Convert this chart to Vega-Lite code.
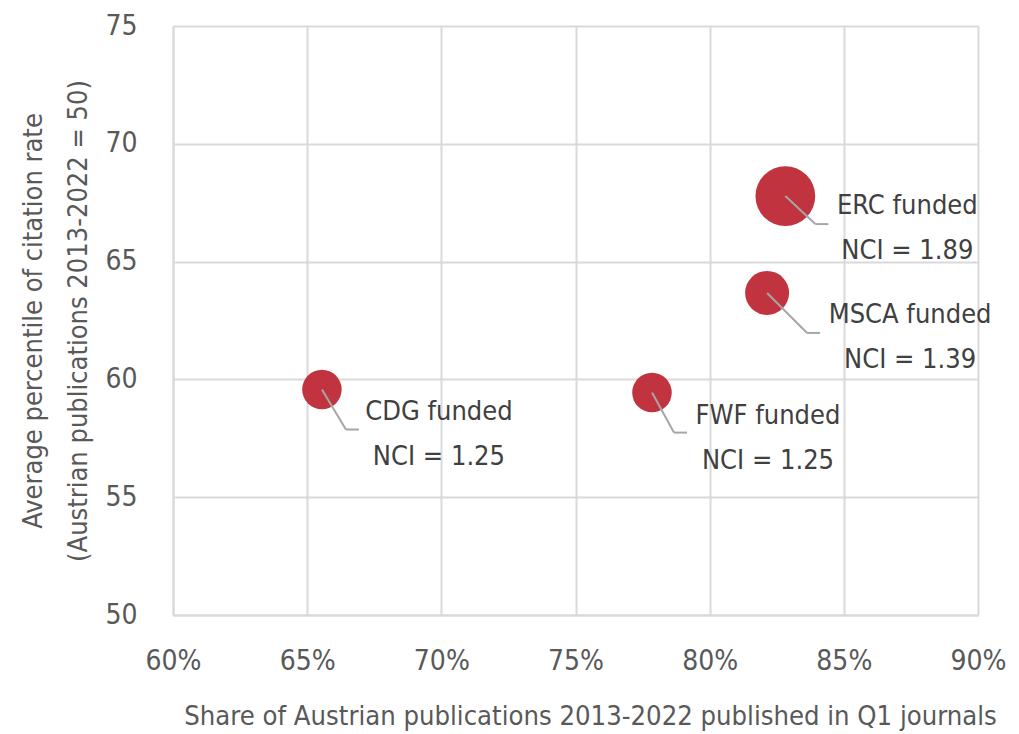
{
  "$schema": "https://vega.github.io/schema/vega-lite/v6.json",
  "width": 805,
  "height": 589,
  "autosize": {"type": "none"},
  "padding": {"left": 173, "top": 26, "right": 41, "bottom": 119},
  "background": "white",
  "config": {
    "view": {"stroke": null},
    "font": "DejaVu Sans Condensed",
    "axis": {
      "labelFont": "DejaVu Sans Condensed",
      "titleFont": "DejaVu Sans Condensed",
      "labelFontSize": 28,
      "titleFontSize": 27,
      "labelColor": "#595959",
      "titleColor": "#595959",
      "titleFontWeight": "normal",
      "gridColor": "#D9D9D9",
      "gridWidth": 2,
      "domainColor": "#D9D9D9",
      "domainWidth": 2,
      "ticks": false,
      "tickSize": 0,
      "labelFlush": false
    }
  },
  "data": {
    "values": [
      {"group": "ERC", "label": "ERC funded\nNCI = 1.89", "share": 0.8282, "pct": 67.78, "nci": 1.89},
      {"group": "MSCA", "label": "MSCA funded\nNCI = 1.39", "share": 0.8214, "pct": 63.67, "nci": 1.39},
      {"group": "CDG", "label": "CDG funded\nNCI = 1.25", "share": 0.6555, "pct": 59.57, "nci": 1.25},
      {"group": "FWF", "label": "FWF funded\nNCI = 1.25", "share": 0.7785, "pct": 59.44, "nci": 1.25}
    ]
  },
  "encoding": {
    "x": {
      "field": "share",
      "type": "quantitative",
      "scale": {"domain": [0.6, 0.9], "nice": false, "zero": false},
      "axis": {
        "format": ".0%",
        "values": [0.6, 0.65, 0.7, 0.75, 0.8, 0.85, 0.9],
        "labelPadding": 32,
        "title": "Share of Austrian publications 2013-2022 published in Q1 journals",
        "titleFontSize": 27.2,
        "titlePadding": 28,
        "titleX": 417
      }
    },
    "y": {
      "field": "pct",
      "type": "quantitative",
      "scale": {"domain": [50, 75], "nice": false, "zero": false},
      "axis": {
        "values": [50, 55, 60, 65, 70, 75],
        "labelPadding": 36,
        "title": ["Average percentile of citation rate", "(Austrian publications 2013-2022 = 50)"],
        "titleLineHeight": 45,
        "titlePadding": 12
      }
    }
  },
  "layer": [
    {
      "mark": {"type": "circle", "color": "#C1343F", "opacity": 1},
      "encoding": {
        "size": {
          "field": "nci",
          "type": "quantitative",
          "scale": {"type": "pow", "exponent": 2, "domain": [0, 2], "range": [0, 4004]},
          "legend": null
        }
      }
    },
    {
      "transform": [{"filter": "datum.group == 'ERC'"}],
      "layer": [
        {"mark": {"type": "rule", "color": "#A6A6A6", "strokeWidth": 2, "x2Offset": 30, "y2Offset": 28},
         "encoding": {"x2": {"field": "share"}, "y2": {"field": "pct"}}},
        {"mark": {"type": "rule", "color": "#A6A6A6", "strokeWidth": 2, "xOffset": 30, "yOffset": 28, "x2Offset": 43, "y2Offset": 28},
         "encoding": {"x2": {"field": "share"}, "y2": {"field": "pct"}}},
        {"mark": {"type": "text", "align": "center", "baseline": "alphabetic", "lineBreak": "\n", "lineHeight": 45, "fontSize": 27, "color": "#404040", "dx": 122, "dy": 18},
         "encoding": {"text": {"field": "label"}}}
      ]
    },
    {
      "transform": [{"filter": "datum.group == 'MSCA'"}],
      "layer": [
        {"mark": {"type": "rule", "color": "#A6A6A6", "strokeWidth": 2, "x2Offset": 40, "y2Offset": 40},
         "encoding": {"x2": {"field": "share"}, "y2": {"field": "pct"}}},
        {"mark": {"type": "rule", "color": "#A6A6A6", "strokeWidth": 2, "xOffset": 40, "yOffset": 40, "x2Offset": 53, "y2Offset": 40},
         "encoding": {"x2": {"field": "share"}, "y2": {"field": "pct"}}},
        {"mark": {"type": "text", "align": "center", "baseline": "alphabetic", "lineBreak": "\n", "lineHeight": 45, "fontSize": 27, "color": "#404040", "dx": 143, "dy": 30},
         "encoding": {"text": {"field": "label"}}}
      ]
    },
    {
      "transform": [{"filter": "datum.group == 'CDG'"}],
      "layer": [
        {"mark": {"type": "rule", "color": "#A6A6A6", "strokeWidth": 2, "x2Offset": 24, "y2Offset": 40},
         "encoding": {"x2": {"field": "share"}, "y2": {"field": "pct"}}},
        {"mark": {"type": "rule", "color": "#A6A6A6", "strokeWidth": 2, "xOffset": 24, "yOffset": 40, "x2Offset": 37, "y2Offset": 40},
         "encoding": {"x2": {"field": "share"}, "y2": {"field": "pct"}}},
        {"mark": {"type": "text", "align": "center", "baseline": "alphabetic", "lineBreak": "\n", "lineHeight": 45, "fontSize": 27, "color": "#404040", "dx": 117, "dy": 30},
         "encoding": {"text": {"field": "label"}}}
      ]
    },
    {
      "transform": [{"filter": "datum.group == 'FWF'"}],
      "layer": [
        {"mark": {"type": "rule", "color": "#A6A6A6", "strokeWidth": 2, "x2Offset": 22, "y2Offset": 40},
         "encoding": {"x2": {"field": "share"}, "y2": {"field": "pct"}}},
        {"mark": {"type": "rule", "color": "#A6A6A6", "strokeWidth": 2, "xOffset": 22, "yOffset": 40, "x2Offset": 35, "y2Offset": 40},
         "encoding": {"x2": {"field": "share"}, "y2": {"field": "pct"}}},
        {"mark": {"type": "text", "align": "center", "baseline": "alphabetic", "lineBreak": "\n", "lineHeight": 45, "fontSize": 27, "color": "#404040", "dx": 116, "dy": 31},
         "encoding": {"text": {"field": "label"}}}
      ]
    }
  ]
}
